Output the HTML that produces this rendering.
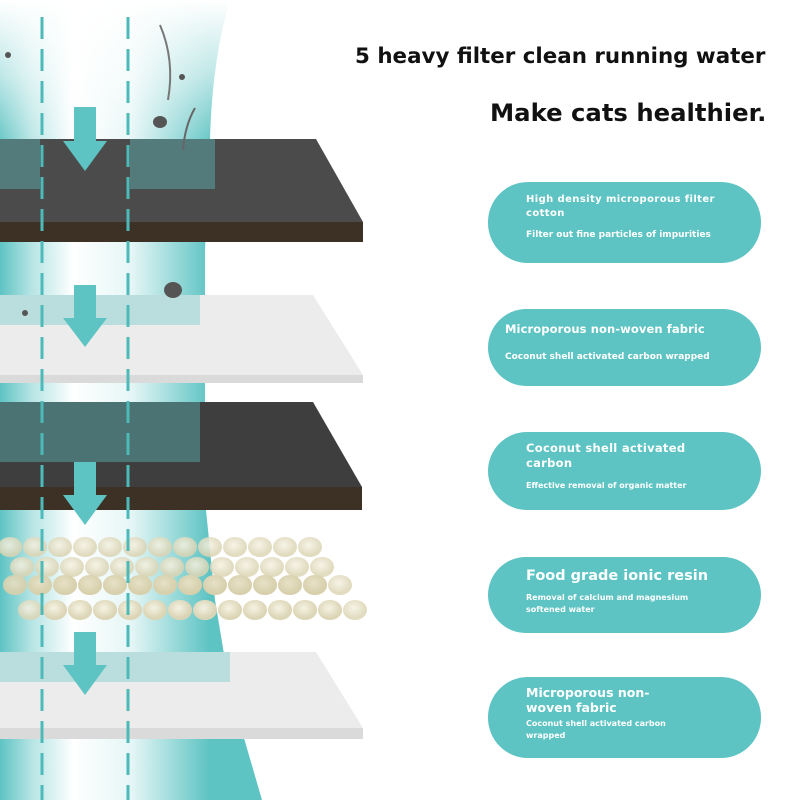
<!DOCTYPE html>
<html><head><meta charset="utf-8"><style>
body{margin:0;width:800px;height:800px;overflow:hidden;background:#fff;font-family:"DejaVu Sans","Liberation Sans",sans-serif}
.t{position:absolute;font-weight:bold;color:#111;white-space:nowrap}
.pill{position:absolute;left:488px;width:273px;background:#5ec3c3;border-radius:40px;color:#fff;font-weight:bold;box-sizing:border-box;padding-left:38px;white-space:nowrap}
</style></head><body>
<svg width="800" height="800" style="position:absolute;left:0;top:0">
<defs>
<linearGradient id="tl" x1="0" x2="1" y1="0" y2="0">
<stop offset="0" stop-color="#5ec3c3"/><stop offset="0.12" stop-color="#b6e4e4"/><stop offset="0.28" stop-color="#fff"/><stop offset="0.5" stop-color="#e6f6f6"/><stop offset="0.8" stop-color="#5ec3c3"/><stop offset="1" stop-color="#5ec3c3"/>
</linearGradient>
<linearGradient id="fade" x1="0" x2="0" y1="0" y2="1"><stop offset="0" stop-color="#fff" stop-opacity="1"/><stop offset="0.5" stop-color="#fff" stop-opacity="0.6"/><stop offset="1" stop-color="#fff" stop-opacity="0"/></linearGradient>
<radialGradient id="bead" cx="0.45" cy="0.4"><stop offset="0" stop-color="#f6f3e4"/><stop offset="1" stop-color="#dcd5b5"/></radialGradient>
</defs>
<path d="M0 0 L230 0 Q212 60 210 140 L205 250 L205 500 L215 600 L230 690 L262 800 L0 800 Z" fill="url(#tl)"/>
<rect x="0" y="0" width="240" height="150" fill="url(#fade)"/>
<polygon points="0,139 316,139 363,222 0,222" fill="#4b4b4b"/>
<rect x="0" y="222" width="363" height="20" fill="#3d3126"/>
<rect x="0" y="139" width="40" height="50" fill="#5ec3c3" opacity="0.4"/>
<rect x="130" y="139" width="85" height="50" fill="#5ec3c3" opacity="0.4"/>
<polygon points="0,295 313,295 363,375 0,375" fill="#ececec"/>
<rect x="0" y="375" width="363" height="8" fill="#dadada"/>
<rect x="0" y="295" width="200" height="30" fill="#5ec3c3" opacity="0.35"/>
<polygon points="0,402 313,402 362,487 0,487" fill="#3e3e3e"/>
<rect x="0" y="487" width="362" height="23" fill="#3d3126"/>
<rect x="0" y="402" width="200" height="60" fill="#5ec3c3" opacity="0.4"/>
<g fill="url(#bead)">
<g id="r1" opacity="0.85"><ellipse cx="10" cy="547" rx="12" ry="10"/><ellipse cx="35" cy="547" rx="12" ry="10"/><ellipse cx="60" cy="547" rx="12" ry="10"/><ellipse cx="85" cy="547" rx="12" ry="10"/><ellipse cx="110" cy="547" rx="12" ry="10"/><ellipse cx="135" cy="547" rx="12" ry="10"/><ellipse cx="160" cy="547" rx="12" ry="10"/><ellipse cx="185" cy="547" rx="12" ry="10"/><ellipse cx="210" cy="547" rx="12" ry="10"/><ellipse cx="235" cy="547" rx="12" ry="10"/><ellipse cx="260" cy="547" rx="12" ry="10"/><ellipse cx="285" cy="547" rx="12" ry="10"/><ellipse cx="310" cy="547" rx="12" ry="10"/></g>
<use href="#r1" x="12" y="20"/>
<use href="#r1" x="5" y="38"/><use href="#r1" x="30" y="38"/>
<use href="#r1" x="20" y="63"/><use href="#r1" x="45" y="63"/>
</g>
<g fill="#d3c9a0" opacity="0.5"><use href="#r1" x="5" y="38"/></g>
<polygon points="0,652 316,652 363,728 0,728" fill="#ececec"/>
<rect x="0" y="728" width="363" height="11" fill="#dadada"/>
<rect x="0" y="652" width="230" height="30" fill="#5ec3c3" opacity="0.35"/>
<g stroke="#4dbaba" stroke-width="3" stroke-dasharray="22,10"><line x1="42" y1="17" x2="42" y2="800"/><line x1="128" y1="17" x2="128" y2="800"/></g>
<g fill="#5ec3c3">
<polygon points="74,107 96,107 96,141 107,141 85,171 63,141 74,141"/>
<polygon points="74,285 96,285 96,318 107,318 85,347 63,318 74,318"/>
<polygon points="74,462 96,462 96,495 107,495 85,525 63,495 74,495"/>
<polygon points="74,632 96,632 96,665 107,665 85,695 63,665 74,665"/>
</g>
<g fill="#555"><ellipse cx="160" cy="122" rx="7" ry="6"/><ellipse cx="173" cy="290" rx="9" ry="8"/><circle cx="182" cy="77" r="3"/><circle cx="25" cy="313" r="3"/><circle cx="8" cy="55" r="3"/></g>
<path d="M160 25 Q175 60 168 100" stroke="#777" stroke-width="2" fill="none"/>
<path d="M195 108 Q185 125 183 150" stroke="#666" stroke-width="2" fill="none"/>
</svg>
<div class="t" style="left:355px;top:44px;font-size:21.4px">5 heavy filter clean running water</div>
<div class="t" style="left:490px;top:98px;font-size:24.3px">Make cats healthier.</div>
<div class="pill" style="top:182px;height:81px;padding-top:11px"><div style="font-size:10px;line-height:14px;letter-spacing:.4px">High density microporous filter<br>cotton</div><div style="font-size:9px;margin-top:9px">Filter out fine particles of impurities</div></div>
<div class="pill" style="top:309px;height:77px;padding-left:17px;padding-top:13px"><div style="font-size:11.5px;letter-spacing:.1px">Microporous non-woven fabric</div><div style="font-size:9px;margin-top:16px">Coconut shell activated carbon wrapped</div></div>
<div class="pill" style="top:432px;height:78px;padding-top:9px"><div style="font-size:11.5px;line-height:15px;letter-spacing:.3px">Coconut shell activated<br>carbon</div><div style="font-size:8px;margin-top:10px">Effective removal of organic matter</div></div>
<div class="pill" style="top:557px;height:76px;padding-top:11px"><div style="font-size:14.5px">Food grade ionic resin</div><div style="font-size:8px;margin-top:8px;line-height:12px">Removal of calcium and magnesium<br>softened water</div></div>
<div class="pill" style="top:677px;height:81px;padding-top:8px"><div style="font-size:12.5px;line-height:15px">Microporous non-<br>woven fabric</div><div style="font-size:8px;margin-top:3px;line-height:12px">Coconut shell activated carbon<br>wrapped</div></div>
</body></html>
